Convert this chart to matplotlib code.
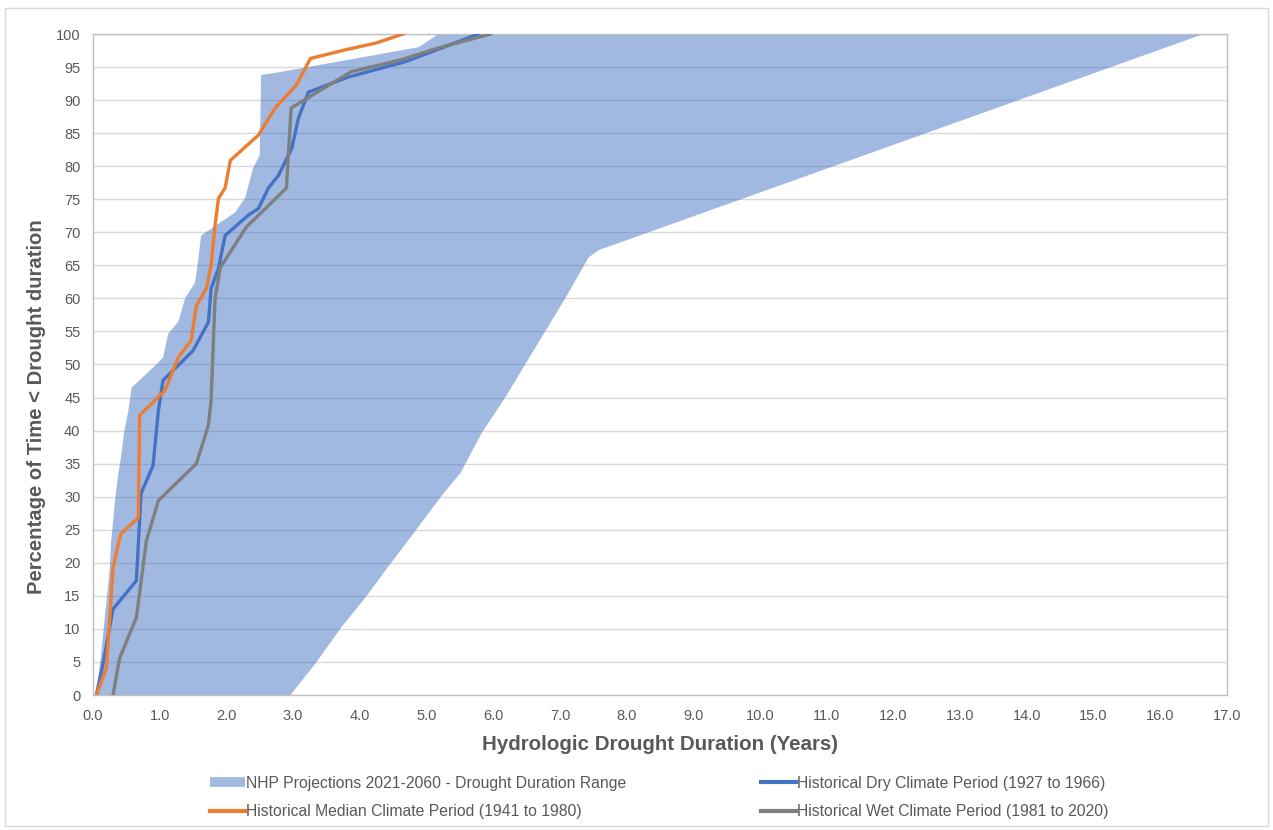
import numpy as np
import matplotlib
matplotlib.use("Agg")
import matplotlib.pyplot as plt
from matplotlib.lines import Line2D
from matplotlib.patches import Rectangle

plt.rcParams['font.family'] = ['Liberation Sans', 'DejaVu Sans']

# NHP projection band: left edge (shortest durations) and right edge (longest)
band_low_pct = [0, 6, 14, 19, 23, 29.4, 33.5, 36, 40, 43, 46.5, 50.3, 51.1, 54.7, 56.5,
                60, 62.4, 66, 69.5, 73, 75.2, 79.7, 81.7, 93.8, 94.2, 96.1, 98.0, 100]
band_low_yrs = [0.05, 0.12, 0.20, 0.25, 0.27, 0.33, 0.38, 0.42, 0.47, 0.53, 0.58, 0.98, 1.05,
                1.13, 1.28, 1.38, 1.53, 1.58, 1.62, 2.13, 2.28, 2.40, 2.50, 2.52, 2.78, 3.83,
                4.88, 5.18]
band_high_pct = [0, 4.7, 10.2, 14.7, 20, 24.8, 30.2, 33.6, 39.7, 45, 50.2, 55.2, 60.2,
                 66.2, 67.3, 100]
band_high_yrs = [2.96, 3.33, 3.72, 4.08, 4.47, 4.83, 5.23, 5.51, 5.83, 6.18, 6.49, 6.79,
                 7.09, 7.43, 7.58, 16.65]

# Historical median climate period (1941 to 1980)
median_yrs = [0.05, 0.20, 0.30, 0.38, 0.42, 0.68, 0.70, 1.08, 1.28, 1.47, 1.55, 1.70, 1.77,
              1.83, 1.88, 1.98, 2.06, 2.48, 2.73, 3.05, 3.26, 3.78, 4.23, 4.65]
median_pct = [0, 4.1, 19.2, 22.9, 24.4, 26.8, 42.3, 46.1, 51.1, 53.6, 58.9, 61.5, 65,
              71.1, 75.1, 76.7, 80.9, 84.7, 88.8, 92.3, 96.3, 97.6, 98.6, 100]

# Historical dry climate period (1927 to 1966)
dry_yrs = [0.05, 0.15, 0.30, 0.65, 0.72, 0.90, 0.98, 1.05, 1.50, 1.73, 1.77, 1.88, 1.98,
           2.33, 2.48, 2.63, 2.78, 2.98, 3.08, 3.23, 3.83, 4.68, 5.78]
dry_pct = [0, 4.7, 13.0, 17.3, 30.5, 34.7, 43, 47.6, 52.1, 56.4, 61.5, 64.5, 69.5,
           72.6, 73.6, 76.7, 78.6, 82.7, 87.3, 91.2, 93.5, 95.8, 100]

# Historical wet climate period (1981 to 2020)
wet_yrs = [0.30, 0.40, 0.65, 0.80, 0.98, 1.55, 1.73, 1.77, 1.83, 1.91, 2.30, 2.90, 2.97,
           3.87, 4.62, 5.18, 5.96]
wet_pct = [0, 5.6, 11.7, 23.3, 29.4, 35, 40.8, 44.5, 60, 64.7, 70.8, 76.7, 88.8,
           94.3, 96.1, 97.9, 100]

x_ticks = np.arange(0, 18, 1)
y_ticks = np.arange(0, 105, 5)

BLUE = '#4472C4'
ORANGE = '#ED7D31'
GRAY = '#7F7F7F'
TXT = '#595959'

fig = plt.figure(figsize=(12.73, 8.30), dpi=100)
fig.patches.append(Rectangle((0.004, 0.005), 0.992, 0.985, transform=fig.transFigure,
                             fill=False, edgecolor='#d9d9d9', linewidth=1))
ax = fig.add_axes([93 / 1273, 135 / 830, 1134 / 1273, 661 / 830])

# band polygon: left edge upward, right edge back downward
poly_x = np.concatenate([band_low_yrs, band_high_yrs[::-1]])
poly_y = np.concatenate([band_low_pct, band_high_pct[::-1]])
ax.fill(poly_x, poly_y, color=BLUE, alpha=0.5, linewidth=0, zorder=2)

ax.plot(dry_yrs, dry_pct, color=BLUE, lw=2.4, zorder=3)
ax.plot(wet_yrs, wet_pct, color=GRAY, lw=2.4, zorder=3)
ax.plot(median_yrs, median_pct, color=ORANGE, lw=2.4, zorder=4)

ax.set_xlim(0, 17)
ax.set_ylim(0, 100)
ax.set_xticks(x_ticks)
ax.set_xticklabels([f'{v:.1f}' for v in x_ticks])
ax.set_yticks(y_ticks)
ax.tick_params(length=0, labelsize=10.5, labelcolor=TXT)
ax.tick_params(axis='x', pad=10)
ax.tick_params(axis='y', pad=9)
ax.grid(axis='y', color='#d9d9d9', linewidth=1, zorder=1)
ax.set_axisbelow(True)
for s in ax.spines.values():
    s.set_color('#bfbfbf')
    s.set_linewidth(1)

ax.set_xlabel('Hydrologic Drought Duration (Years)', fontsize=14.8, fontweight='bold',
              color=TXT, labelpad=9)
ax.set_ylabel('Percentage of Time < Drought duration', fontsize=14.6, fontweight='bold',
              color=TXT)
ax.yaxis.set_label_coords(-47 / 1134, 0.436)

handles = [Line2D([], [], color='#A1B8E1', lw=7, solid_capstyle='butt'),
           Line2D([], [], color=ORANGE, lw=3),
           Line2D([], [], color=BLUE, lw=3),
           Line2D([], [], color=GRAY, lw=3)]
labels = ['NHP Projections 2021-2060 - Drought Duration Range',
          'Historical Median Climate Period (1941 to 1980)',
          'Historical Dry Climate Period (1927 to 1966)',
          'Historical Wet Climate Period (1981 to 2020)']
leg = fig.legend(handles, labels, ncol=2, loc='center', bbox_to_anchor=(0.518, 0.039),
                 frameon=False, fontsize=11.3, handlelength=2.2, handletextpad=0.1,
                 columnspacing=8.6, labelspacing=0.85)
for t in leg.get_texts():
    t.set_color(TXT)

fig.savefig('out.png', dpi=100)
